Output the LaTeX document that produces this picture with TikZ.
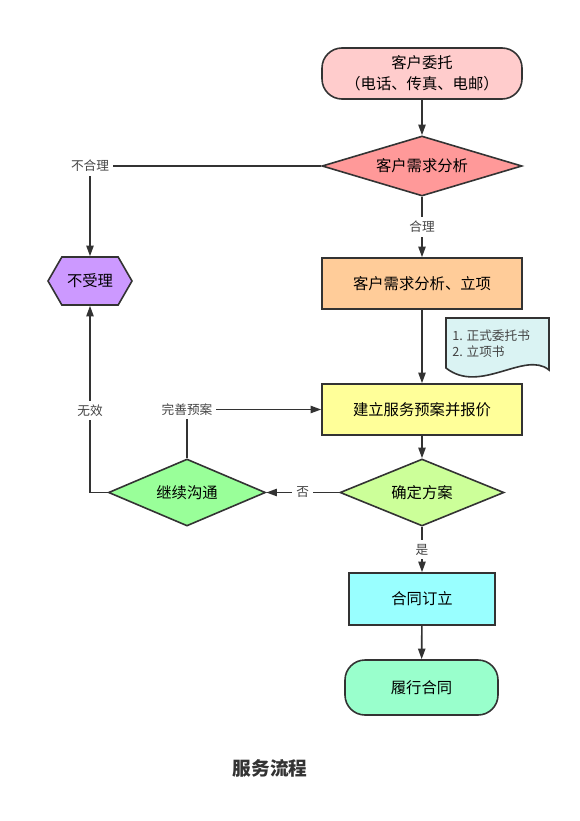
\documentclass[tikz,border=0pt]{standalone}
\usepackage{fontspec}
\setmainfont{Noto Sans CJK SC}
\usepackage{tikz}
\usetikzlibrary{arrows.meta,shapes.geometric,shapes.symbols}
\definecolor{linec}{HTML}{333333}
\definecolor{lblc}{HTML}{444444}
\definecolor{startc}{HTML}{FFCCCC}
\definecolor{judgec}{HTML}{FF9999}
\definecolor{rejectc}{HTML}{CC99FF}
\definecolor{projc}{HTML}{FFCC99}
\definecolor{planc}{HTML}{FFFF99}
\definecolor{confirmc}{HTML}{CCFF99}
\definecolor{talkc}{HTML}{99FF99}
\definecolor{signc}{HTML}{99FFFF}
\definecolor{donec}{HTML}{99FFCC}
\definecolor{notec}{HTML}{DAF3F3}

\begin{document}
\begin{tikzpicture}[x=0.75pt,y=-0.75pt,
  box/.style={draw=linec,line width=1.2pt,inner sep=0pt,font=\fontsize{11.5pt}{15.75pt}\selectfont},
  rbox/.style={box,rectangle,rounded corners=15pt},
  dbox/.style={box,diamond},
  lbl/.style={fill=white,text=lblc,inner sep=3pt,font=\fontsize{9.5pt}{11pt}\selectfont},
  flow/.style={draw=linec,line width=1.2pt,-{Triangle[length=8pt,width=5.5pt]}},
  link/.style={draw=linec,line width=1.2pt}]
  \useasboundingbox (0,0) rectangle (580,821);
  \node[rbox,fill=startc,minimum width=150pt,minimum height=38.25pt,align=center] (start) at (422,73.5) {客户委托\\（电话、传真、电邮）};
  \node[dbox,fill=judgec,minimum width=150pt,minimum height=45pt,aspect=3.33] (judge) at (422,166) {客户需求分析};
  \node[box,fill=rejectc,signal,signal to=west and east,signal pointer angle=120,minimum width=63pt,minimum height=36pt] (reject) at (90,281) {不受理};
  \node[box,fill=projc,minimum width=150pt,minimum height=38.25pt] (proj) at (422,283.5) {客户需求分析、立项};
  \node[box,fill=planc,minimum width=150pt,minimum height=38.25pt] (plan) at (422,409.5) {建立服务预案并报价};
  \node[dbox,fill=confirmc,minimum width=123pt,minimum height=50.25pt,aspect=2.45] (confirm) at (422,492.5) {确定方案};
  \node[dbox,fill=talkc,minimum width=117.75pt,minimum height=50.25pt,aspect=2.35] (talk) at (187,492.5) {继续沟通};
  \node[box,fill=signc,minimum width=109.5pt,minimum height=39pt] (sign) at (422,599) {合同订立};
  \node[rbox,fill=donec,minimum width=114.75pt,minimum height=41.25pt] (done) at (421.5,687.5) {履行合同};
  \draw[link,fill=notec] (446,318) -- (549,318) -- (549,370) .. controls (525,350) and (480,395) .. (446,368) -- cycle;
  \node[anchor=west,align=left,text=lblc,inner sep=0pt,font=\fontsize{9.5pt}{12pt}\selectfont] (doc) at (452,344) {1. 正式委托书\\2. 立项书};
  \node[text=linec,font=\bfseries\fontsize{14pt}{16pt}\selectfont] (title) at (270,768) {服务流程};
  \draw[flow] (start) -- (judge);
  \draw[flow] (judge.west) -| node[lbl,pos=.5] {不合理} (reject.north);
  \draw[flow] (judge) -- node[lbl] {合理} (proj);
  \draw[flow] (proj) -- (plan);
  \draw[flow] (plan) -- (confirm);
  \draw[flow] (confirm.west) -- node[lbl] {否} (talk.east);
  \draw[flow] (talk.north) |- node[lbl,pos=.5] {完善预案} (plan.west);
  \draw[flow] (talk.west) -| node[lbl,pos=.72] {无效} (reject.south);
  \draw[flow] (confirm) -- node[lbl] {是} (sign);
  \draw[flow] (sign) -- (done);
\end{tikzpicture}
\end{document}
